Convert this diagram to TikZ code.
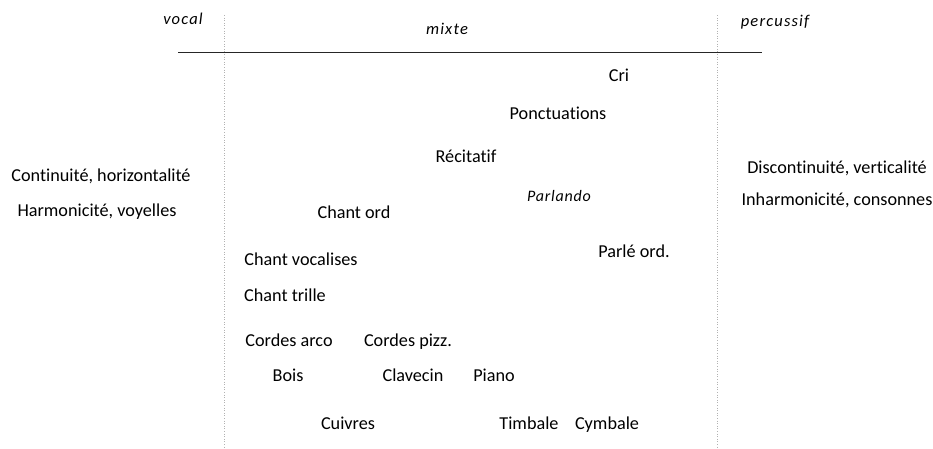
\documentclass[tikz,border=0pt]{standalone}
\usepackage{fontspec}
\setmainfont{Carlito}[Ligatures=NoCommon]
\usepackage{tikz}
\usetikzlibrary{positioning}

\begin{document}
\begin{tikzpicture}[x=1pt, y=-1pt, every node/.style={font=\fontsize{18.2}{21}\selectfont, inner sep=0pt, text height=13pt, text depth=4pt}]
            \tikzset{pole/.style={font=\fontsize{16.5}{19}\selectfont\itshape\addfontfeatures{LetterSpace=7}}}
            \useasboundingbox (0,0) rectangle (933,448);
            % en-tetes
            \node[pole] (vocal) at (183,20) {vocal};
            \node[pole] (mixte) at (447,30) {mixte};
            \node[pole] (percussif) at (775,22) {percussif};
            \coordinate (axe_g) at (178,52);
            \coordinate (axe_d) at (762,52);
            \draw[line width=0.9pt, black!85] (axe_g) -- (axe_d);
            \coordinate (sep_g_haut) at (224,15);
            \coordinate (sep_g_bas) at (224,448);
            \coordinate (sep_d_haut) at (717,15);
            \coordinate (sep_d_bas) at (717,448);
            \draw[black!30, dotted, line width=0.6pt] (sep_g_haut) -- (sep_g_bas);
            \draw[black!30, dotted, line width=0.6pt] (sep_d_haut) -- (sep_d_bas);
            % poles
            \node (continuite) at (101,177) {Continuité, horizontalité};
            \node (harmonicite) at (97,212) {Harmonicité, voyelles};
            \node (discontinuite) at (837,169) {Discontinuité, verticalité};
            \node (inharmonicite) at (837,201) {Inharmonicité, consonnes};
            % voix
            \node (cri) at (619,77) {Cri};
            \node (ponctuations) at (558,115) {Ponctuations};
            \node (recitatif) at (466,158) {Récitatif};
            \node[pole, font=\fontsize{16}{19}\selectfont\itshape\addfontfeatures{LetterSpace=5}] (parlando) at (559,197) {Parlando};
            \node (chant_ord) at (354,214) {Chant ord};
            \node (parle_ord) at (634,253) {Parlé ord.};
            \node (vocalises) at (301,261) {Chant vocalises};
            \node (trille) at (285,297) {Chant trille};
            % instruments
            \node (arco) at (289,342) {Cordes arco};
            \node (pizz) at (408,342) {Cordes pizz.};
            \node (bois) at (288,377) {Bois};
            \node (clavecin) at (413,377) {Clavecin};
            \node (piano) at (494,377) {Piano};
            \node (cuivres) at (348,425) {Cuivres};
            \node (timbale) at (529,425) {Timbale};
            \node (cymbale) at (607,425) {Cymbale};
        \end{tikzpicture}
\end{document}
